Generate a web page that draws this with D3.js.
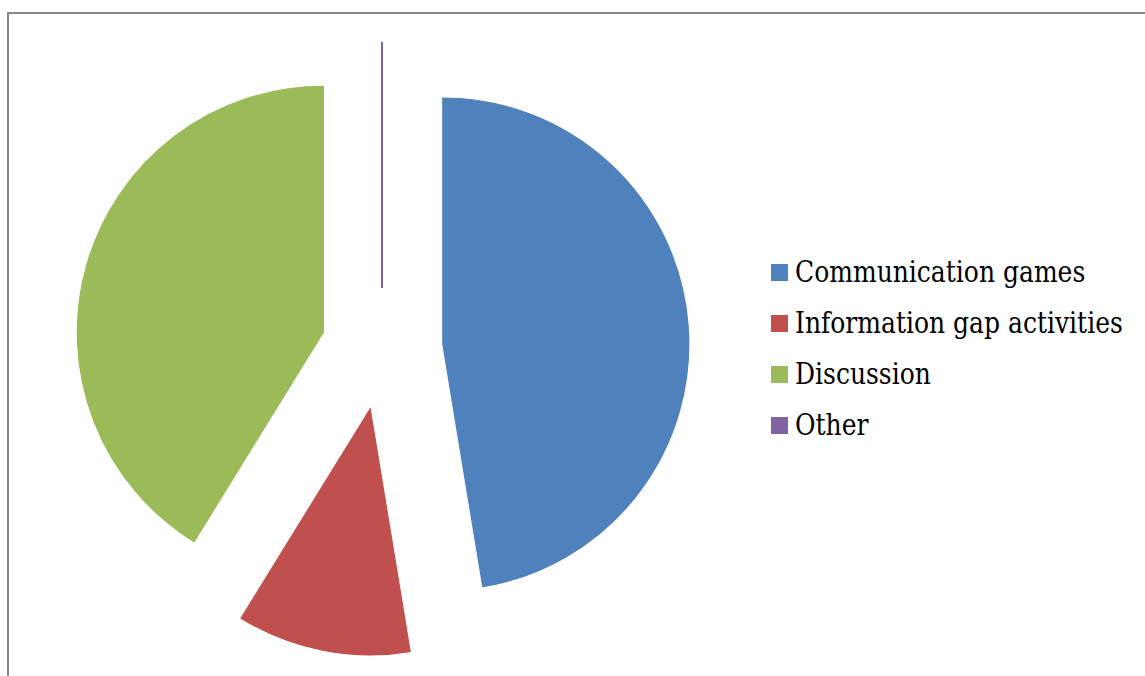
<!DOCTYPE html>
<html>
<head>
<meta charset="utf-8">
<script src="https://cdn.jsdelivr.net/npm/d3@7"></script>
<style>
  html, body { margin: 0; padding: 0; background: #fff; }
  svg { display: block; }
  .legend-label { font-family: "DejaVu Serif", serif; }
</style>
</head>
<body>
<svg id="chart" width="1145" height="676"></svg>
<script>
// Share of speaking activities used in class (percent)
const categories = ["Communication games", "Information gap activities", "Discussion", "Other"];
const values = [47.4, 11.4, 41.2, 0];
const colors = ["#4F81BD", "#C0504D", "#9BBB59", "#8064A2"];

const svg = d3.select("#chart");

// Chart area frame (left and top edges)
svg.append("path")
  .attr("d", "M8,676 L8,13 L1145,13")
  .attr("fill", "none")
  .attr("stroke", "#888888")
  .attr("stroke-width", 2);

const cx = 382, cy = 349, radius = 246, explode = 61;

const pie = d3.pie().sort(null).value(d => d).startAngle(0).endAngle(2 * Math.PI);
const arc = d3.arc().innerRadius(0).outerRadius(radius);
const arcs = pie(values);

const g = svg.append("g").attr("transform", `translate(${cx},${cy})`);

g.selectAll("path.slice")
  .data(arcs)
  .join("path")
  .attr("class", "slice")
  .attr("transform", d => {
    const mid = (d.startAngle + d.endAngle) / 2;
    return `translate(${explode * Math.sin(mid)},${-explode * Math.cos(mid)})`;
  })
  .attr("d", arc)
  .attr("fill", (d, i) => colors[i])
  .attr("stroke", (d, i) => colors[i])
  .attr("stroke-width", d => d.endAngle === d.startAngle ? 2 : 1.2)
  .attr("stroke-linejoin", "miter");

// Legend
const legend = svg.append("g").attr("transform", "translate(771,0)");
const rows = legend.selectAll("g")
  .data(categories)
  .join("g")
  .attr("transform", (d, i) => `translate(0,${282 + i * 51})`);

rows.append("rect")
  .attr("x", 0).attr("y", -18)
  .attr("width", 17).attr("height", 17)
  .attr("fill", (d, i) => colors[i]);

const labels = rows.append("g")
  .attr("transform", "translate(24,0)")
  .append("text")
  .attr("class", "legend-label")
  .attr("x", 0).attr("y", 0)
  .attr("font-size", 30)
  .attr("fill", "#000")
  .text(d => d);

// Narrow the wide serif labels so the longest one fits right of the pie
const maxLabelWidth = 328;
const widest = d3.max(labels.nodes(), n => n.getComputedTextLength());
const sx = Math.min(1, maxLabelWidth / widest);
labels.attr("transform", `scale(${sx},1)`);
</script>
</body>
</html>
